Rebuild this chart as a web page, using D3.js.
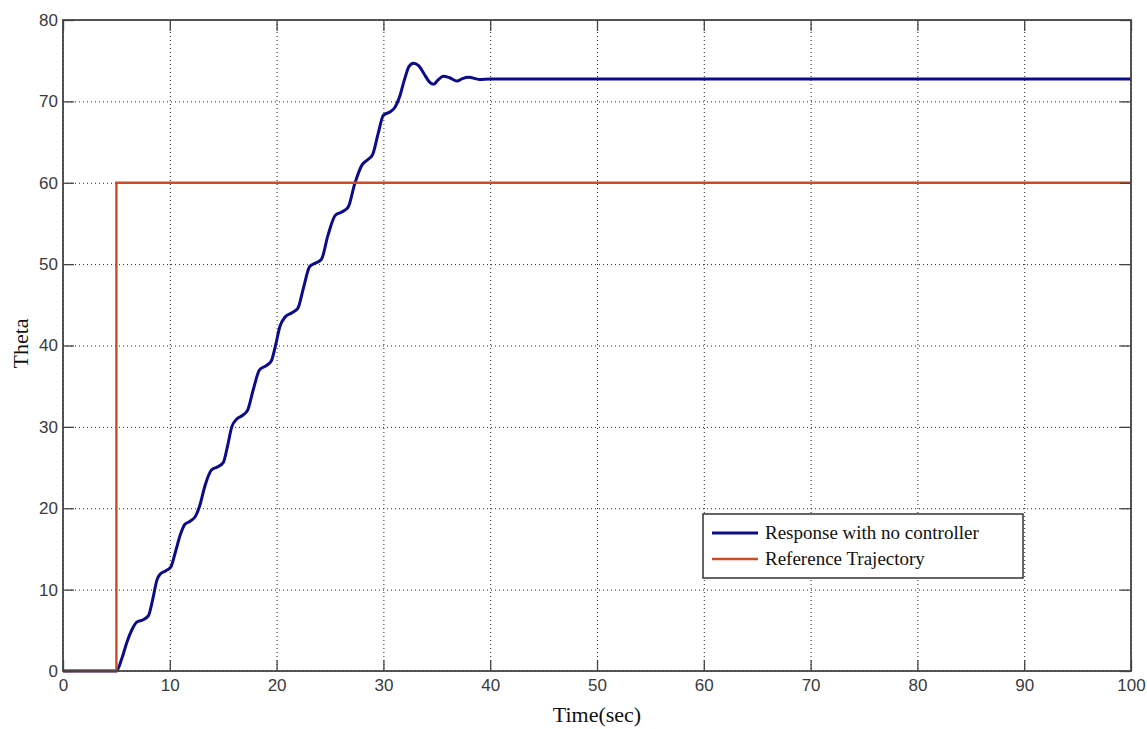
<!DOCTYPE html>
<html>
<head>
<meta charset="utf-8">
<script src="https://cdn.jsdelivr.net/npm/d3@7"></script>
<style>
  body { margin: 0; background: #fff; }
  .tick text { font-family: "Liberation Sans", Arial, sans-serif; font-size: 17px; fill: #3a3a3a; }
</style>
</head>
<body>
<svg id="chart"></svg>
<script>
// Step response, no controller
const respTime = [0, 5.0, 5.5, 6.0, 6.5, 6.9, 7.5, 8.0, 8.4, 8.8, 9.1, 9.6, 10.1, 10.5, 11.0, 11.4, 11.9, 12.4,
  12.8, 13.3, 13.9, 14.5, 15.0, 15.4, 15.8, 16.3, 16.8, 17.3, 17.8, 18.4, 19.0, 19.5, 19.9, 20.3, 20.8,
  21.4, 22.0, 22.5, 23.1, 23.6, 24.2, 24.8, 25.5, 26.1, 26.7, 27.3, 28.0, 28.5, 29.0, 29.5, 30.0, 30.6,
  31.1, 31.5, 32.0, 32.4, 32.8, 33.3, 33.8, 34.3, 34.7, 35.1, 35.6, 36.2, 36.9, 37.4, 38.0, 39.0, 40.0, 100];
const respTheta = [0, 0, 1.5, 3.6, 5.2, 6.0, 6.3, 6.8, 8.8, 11.2, 11.9, 12.3, 12.8, 14.5, 16.8, 18.0, 18.4, 19.0,
  20.3, 22.8, 24.7, 25.1, 25.6, 27.6, 30.0, 31.0, 31.4, 32.1, 34.5, 37.0, 37.5, 38.1, 40.0, 42.3, 43.5,
  44.0, 44.6, 47.0, 49.7, 50.1, 50.6, 53.5, 56.0, 56.4, 57.0, 59.8, 62.2, 62.8, 63.5, 66.0, 68.3, 68.7,
  69.3, 70.5, 72.8, 74.3, 74.7, 74.4, 73.4, 72.4, 72.1, 72.6, 73.1, 72.9, 72.5, 72.8, 72.95, 72.7, 72.75, 72.75];

// Reference trajectory (step at t = 5)
const refTime = [0, 5, 5, 100];
const refTheta = [0, 0, 60, 60];

const xTicks = [0, 10, 20, 30, 40, 50, 60, 70, 80, 90, 100];
const yTicks = [0, 10, 20, 30, 40, 50, 60, 70, 80];
const legendLabels = ["Response with no controller", "Reference Trajectory"];

const width = 1147;
const height = 729;
const marginTop = 20;
const marginRight = 16;
const marginBottom = 58;
const marginLeft = 63;

const x = d3.scaleLinear()
    .domain([0, 100])
    .range([marginLeft, width - marginRight]);

const y = d3.scaleLinear()
    .domain([0, 80])
    .range([height - marginBottom, marginTop]);

const color = d3.scaleOrdinal()
    .domain(legendLabels)
    .range(["#0c0c8a", "#c94d25"]);

const svg = d3.select("#chart")
    .attr("width", width)
    .attr("height", height)
    .attr("viewBox", [0, 0, width, height]);

const plotW = width - marginLeft - marginRight;
const plotH = height - marginTop - marginBottom;

// Dotted grid
svg.append("g")
    .attr("transform", `translate(0,${marginTop})`)
    .call(d3.axisBottom(x).tickValues(xTicks).tickSize(plotH).tickFormat(""))
    .call(g => g.select(".domain").remove())
    .selectAll("line")
      .attr("stroke", "#222")
      .attr("stroke-dasharray", "1,3");

svg.append("g")
    .attr("transform", `translate(${marginLeft},0)`)
    .call(d3.axisRight(y).tickValues(yTicks).tickSize(plotW).tickFormat(""))
    .call(g => g.select(".domain").remove())
    .selectAll("line")
      .attr("stroke", "#222")
      .attr("stroke-dasharray", "1,3");

// Lines
const line = d3.line()
    .x(d => x(d[0]))
    .y(d => y(d[1]));

const respData = respTime.map((t, i) => [t, respTheta[i]]);
const refData = refTime.map((t, i) => [t, refTheta[i]]);

svg.append("path")
    .datum(respData)
    .attr("fill", "none")
    .attr("stroke", color(legendLabels[0]))
    .attr("stroke-width", 3)
    .attr("stroke-linejoin", "round")
    .attr("d", line.curve(d3.curveMonotoneX));

svg.append("path")
    .datum(refData)
    .attr("fill", "none")
    .attr("stroke", color(legendLabels[1]))
    .attr("stroke-width", 2.4)
    .attr("d", line.curve(d3.curveLinear));

// Axes, ticks inside, box all round
const tickLen = 11;
svg.append("g")
    .attr("transform", `translate(0,${height - marginBottom})`)
    .call(d3.axisBottom(x).tickValues(xTicks).tickSizeInner(-tickLen).tickSizeOuter(0).tickPadding(8))
    .call(g => g.selectAll("line").attr("stroke", "#444").attr("stroke-width", 1.3))
    .call(g => g.select(".domain").remove());

svg.append("g")
    .attr("transform", `translate(${marginLeft},0)`)
    .call(d3.axisLeft(y).tickValues(yTicks).tickSizeInner(-tickLen).tickSizeOuter(0).tickPadding(5))
    .call(g => g.selectAll("line").attr("stroke", "#444").attr("stroke-width", 1.3))
    .call(g => g.select(".domain").remove());

svg.append("g")
    .attr("transform", `translate(0,${marginTop})`)
    .call(d3.axisTop(x).tickValues(xTicks).tickSizeInner(-tickLen).tickSizeOuter(0).tickFormat(""))
    .call(g => g.selectAll("line").attr("stroke", "#444").attr("stroke-width", 1.3))
    .call(g => g.select(".domain").remove());

svg.append("g")
    .attr("transform", `translate(${width - marginRight},0)`)
    .call(d3.axisRight(y).tickValues(yTicks).tickSizeInner(-tickLen).tickSizeOuter(0).tickFormat(""))
    .call(g => g.selectAll("line").attr("stroke", "#444").attr("stroke-width", 1.3))
    .call(g => g.select(".domain").remove());

svg.append("rect")
    .attr("x", marginLeft)
    .attr("y", marginTop)
    .attr("width", plotW)
    .attr("height", plotH)
    .attr("fill", "none")
    .attr("stroke", "#444")
    .attr("stroke-width", 1.8);

// Axis labels
svg.append("text")
    .attr("x", x(50))
    .attr("y", height - 7)
    .attr("text-anchor", "middle")
    .style("font", "22px 'Liberation Serif', 'Times New Roman', serif")
    .attr("fill", "#111")
    .text("Time(sec)");

svg.append("text")
    .attr("transform", `translate(28,${y(40) - 2}) rotate(-90)`)
    .attr("text-anchor", "middle")
    .style("font", "22px 'Liberation Serif', 'Times New Roman', serif")
    .attr("fill", "#111")
    .text("Theta");

// Legend
const legend = svg.append("g")
    .attr("transform", "translate(703,514)");

legend.append("rect")
    .attr("width", 320)
    .attr("height", 64)
    .attr("fill", "#fff")
    .attr("stroke", "#333")
    .attr("stroke-width", 1.5);

const legendGroups = legend.selectAll("g")
  .data(legendLabels)
  .join("g")
    .attr("transform", (d, i) => `translate(0, ${19 + i * 26})`);

legendGroups.append("line")
    .attr("x1", 9)
    .attr("x2", 55)
    .attr("stroke", d => color(d))
    .attr("stroke-width", d => d === legendLabels[0] ? 3 : 2.4);

legendGroups.append("text")
    .attr("x", 62)
    .attr("y", 6)
    .style("font", "19px 'Liberation Serif', 'Times New Roman', serif")
    .attr("fill", "#111")
    .text(d => d);
</script>
</body>
</html>
